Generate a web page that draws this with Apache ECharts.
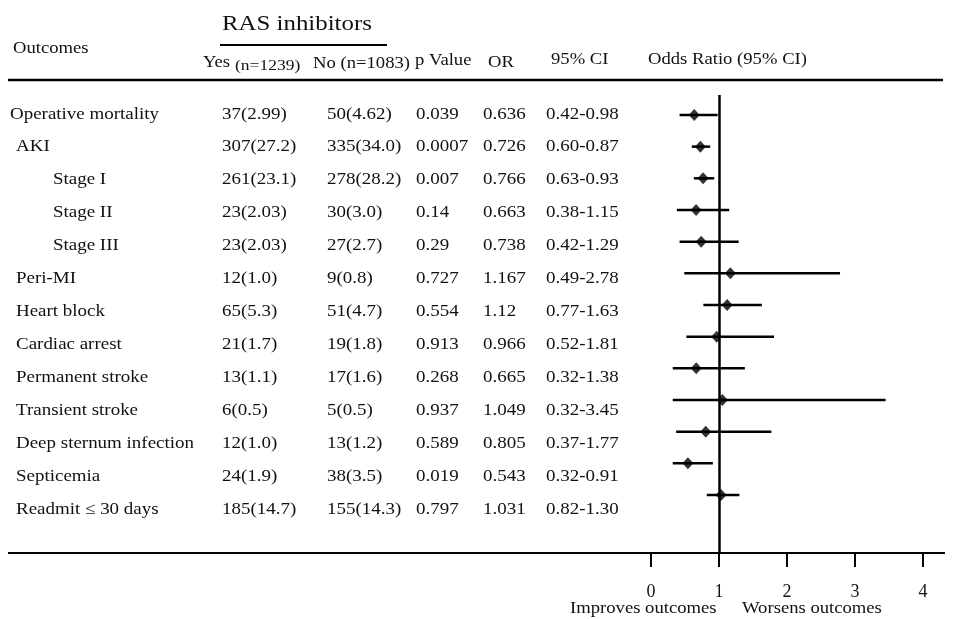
<!DOCTYPE html>
<html>
<head>
<meta charset="utf-8">
<script src="https://cdn.jsdelivr.net/npm/echarts@6/dist/echarts.min.js"></script>
<style>
html, body { margin: 0; padding: 0; background: #fff; }
#chart { width: 955px; height: 619px; }
</style>
</head>
<body>
<div id="chart"></div>
<script>
// table data
var outcomes = ['Operative mortality', 'AKI', 'Stage I', 'Stage II', 'Stage III', 'Peri-MI', 'Heart block',
	'Cardiac arrest', 'Permanent stroke', 'Transient stroke', 'Deep sternum infection', 'Septicemia', 'Readmit \u2264 30 days'];
var indentLevel = [0, 1, 2, 2, 2, 1, 1, 1, 1, 1, 1, 1, 1];
var yesCol = ['37(2.99)', '307(27.2)', '261(23.1)', '23(2.03)', '23(2.03)', '12(1.0)', '65(5.3)', '21(1.7)',
	'13(1.1)', '6(0.5)', '12(1.0)', '24(1.9)', '185(14.7)'];
var noCol = ['50(4.62)', '335(34.0)', '278(28.2)', '30(3.0)', '27(2.7)', '9(0.8)', '51(4.7)', '19(1.8)',
	'17(1.6)', '5(0.5)', '13(1.2)', '38(3.5)', '155(14.3)'];
var pValues = ['0.039', '0.0007', '0.007', '0.14', '0.29', '0.727', '0.554', '0.913', '0.268', '0.937', '0.589', '0.019', '0.797'];
var orValues = [0.636, 0.726, 0.766, 0.663, 0.738, 1.167, 1.12, 0.966, 0.665, 1.049, 0.805, 0.543, 1.031];
var ciLow = [0.42, 0.60, 0.63, 0.38, 0.42, 0.49, 0.77, 0.52, 0.32, 0.32, 0.37, 0.32, 0.82];
var ciHigh = [0.98, 0.87, 0.93, 1.15, 1.29, 2.78, 1.63, 1.81, 1.38, 3.45, 1.77, 0.91, 1.30];
var xTicks = [0, 1, 2, 3, 4];

var FONT = '"Liberation Serif", "DejaVu Serif", serif';
var INK = '#111';
var STRETCH = 1.13;

var chart = echarts.init(document.getElementById('chart'), null, { renderer: 'canvas' });

// column x positions in the table grid (pixels)
var indentX = [10, 16, 53];
var colX = [222, 327, 416, 483, 546];

var rowData = outcomes.map(function (o, i) { return [i]; });

function headText(text, x, y, size) {
	return {
		type: 'text', x: x, y: y, scaleX: STRETCH,
		style: { text: text, font: size + 'px ' + FONT, fill: INK, verticalAlign: 'middle' }
	};
}
function hLine(x1, x2, y, w) {
	return {
		type: 'line', shape: { x1: x1, y1: y, x2: x2, y2: y },
		style: { stroke: '#000', lineWidth: w }
	};
}

var option = {
	backgroundColor: '#fff',
	animation: false,
	grid: [
		{ left: 651, width: 272, top: 95, bottom: 66 },
		{ left: 0, right: 0, top: 95, bottom: 66 }
	],
	xAxis: [
		{
			type: 'value', gridIndex: 0, position: 'bottom',
			min: xTicks[0], max: xTicks[xTicks.length - 1], interval: 1,
			axisLine: { show: false, onZero: false },
			axisTick: { show: true, length: 14, lineStyle: { color: '#000', width: 2 } },
			axisLabel: { color: INK, fontFamily: FONT, fontSize: 18, margin: 30 },
			splitLine: { show: false }
		},
		{ type: 'value', gridIndex: 1, min: 0, max: 955, show: false }
	],
	yAxis: [
		{ type: 'value', gridIndex: 0, inverse: true, min: -0.63, max: 13.83, show: false },
		{ type: 'value', gridIndex: 1, inverse: true, min: -0.58, max: 13.32, show: false }
	],
	graphic: [
		headText('RAS inhibitors', 222, 24, 22),
		hLine(220, 387, 45, 2),
		headText('Outcomes', 13, 49, 16.5),
		headText('Yes', 203, 63, 16.5),
		headText('(n=1239)', 235, 66, 15.5),
		headText('No (n=1083)', 313, 64, 16.5),
		headText('p Value', 415, 61, 16.5),
		headText('OR', 488, 63, 16.5),
		headText('95% CI', 551, 60, 16.5),
		headText('Odds Ratio (95% CI)', 648, 60, 16.5),
		hLine(8, 943, 80, 2.5),
		hLine(8, 945, 553, 2),
		headText('Improves outcomes', 570, 609, 16.5),
		headText('Worsens outcomes', 742, 609, 16.5)
	],
	series: [
		{
			// table body
			type: 'custom',
			xAxisIndex: 1, yAxisIndex: 1,
			data: rowData,
			silent: true,
			renderItem: function (params, api) {
				var i = api.value(0);
				var y = api.coord([0, i])[1];
				var cells = [
					[outcomes[i], indentX[indentLevel[i]]],
					[yesCol[i], colX[0]],
					[noCol[i], colX[1]],
					[pValues[i], colX[2]],
					[String(orValues[i]), colX[3]],
					[ciLow[i].toFixed(2) + '-' + ciHigh[i].toFixed(2), colX[4]]
				];
				return {
					type: 'group',
					children: cells.map(function (c) {
						return {
							type: 'text', x: api.coord([c[1], i])[0], y: y, scaleX: STRETCH,
							style: { text: c[0], font: '16.8px ' + FONT, fill: INK, verticalAlign: 'middle' }
						};
					})
				};
			}
		},
		{
			// confidence intervals
			type: 'custom',
			xAxisIndex: 0, yAxisIndex: 0,
			data: rowData,
			silent: true,
			clip: false,
			renderItem: function (params, api) {
				var i = api.value(0);
				var p1 = api.coord([ciLow[i], i]);
				var p2 = api.coord([ciHigh[i], i]);
				return {
					type: 'line',
					shape: { x1: p1[0], y1: p1[1], x2: p2[0], y2: p2[1] },
					style: { stroke: '#000', lineWidth: 2.5 }
				};
			}
		},
		{
			// odds ratios
			type: 'scatter',
			xAxisIndex: 0, yAxisIndex: 0,
			data: orValues.map(function (v, i) { return [v, i]; }),
			symbol: 'diamond',
			symbolSize: [11, 12],
			itemStyle: { color: '#000' },
			silent: true,
			z: 5,
			markLine: {
				silent: true,
				symbol: ['none', 'none'],
				label: { show: false },
				lineStyle: { color: '#000', width: 2.5, type: 'solid' },
				data: [{ xAxis: 1 }]
			}
		}
	]
};

chart.setOption(option);
</script>
</body>
</html>
